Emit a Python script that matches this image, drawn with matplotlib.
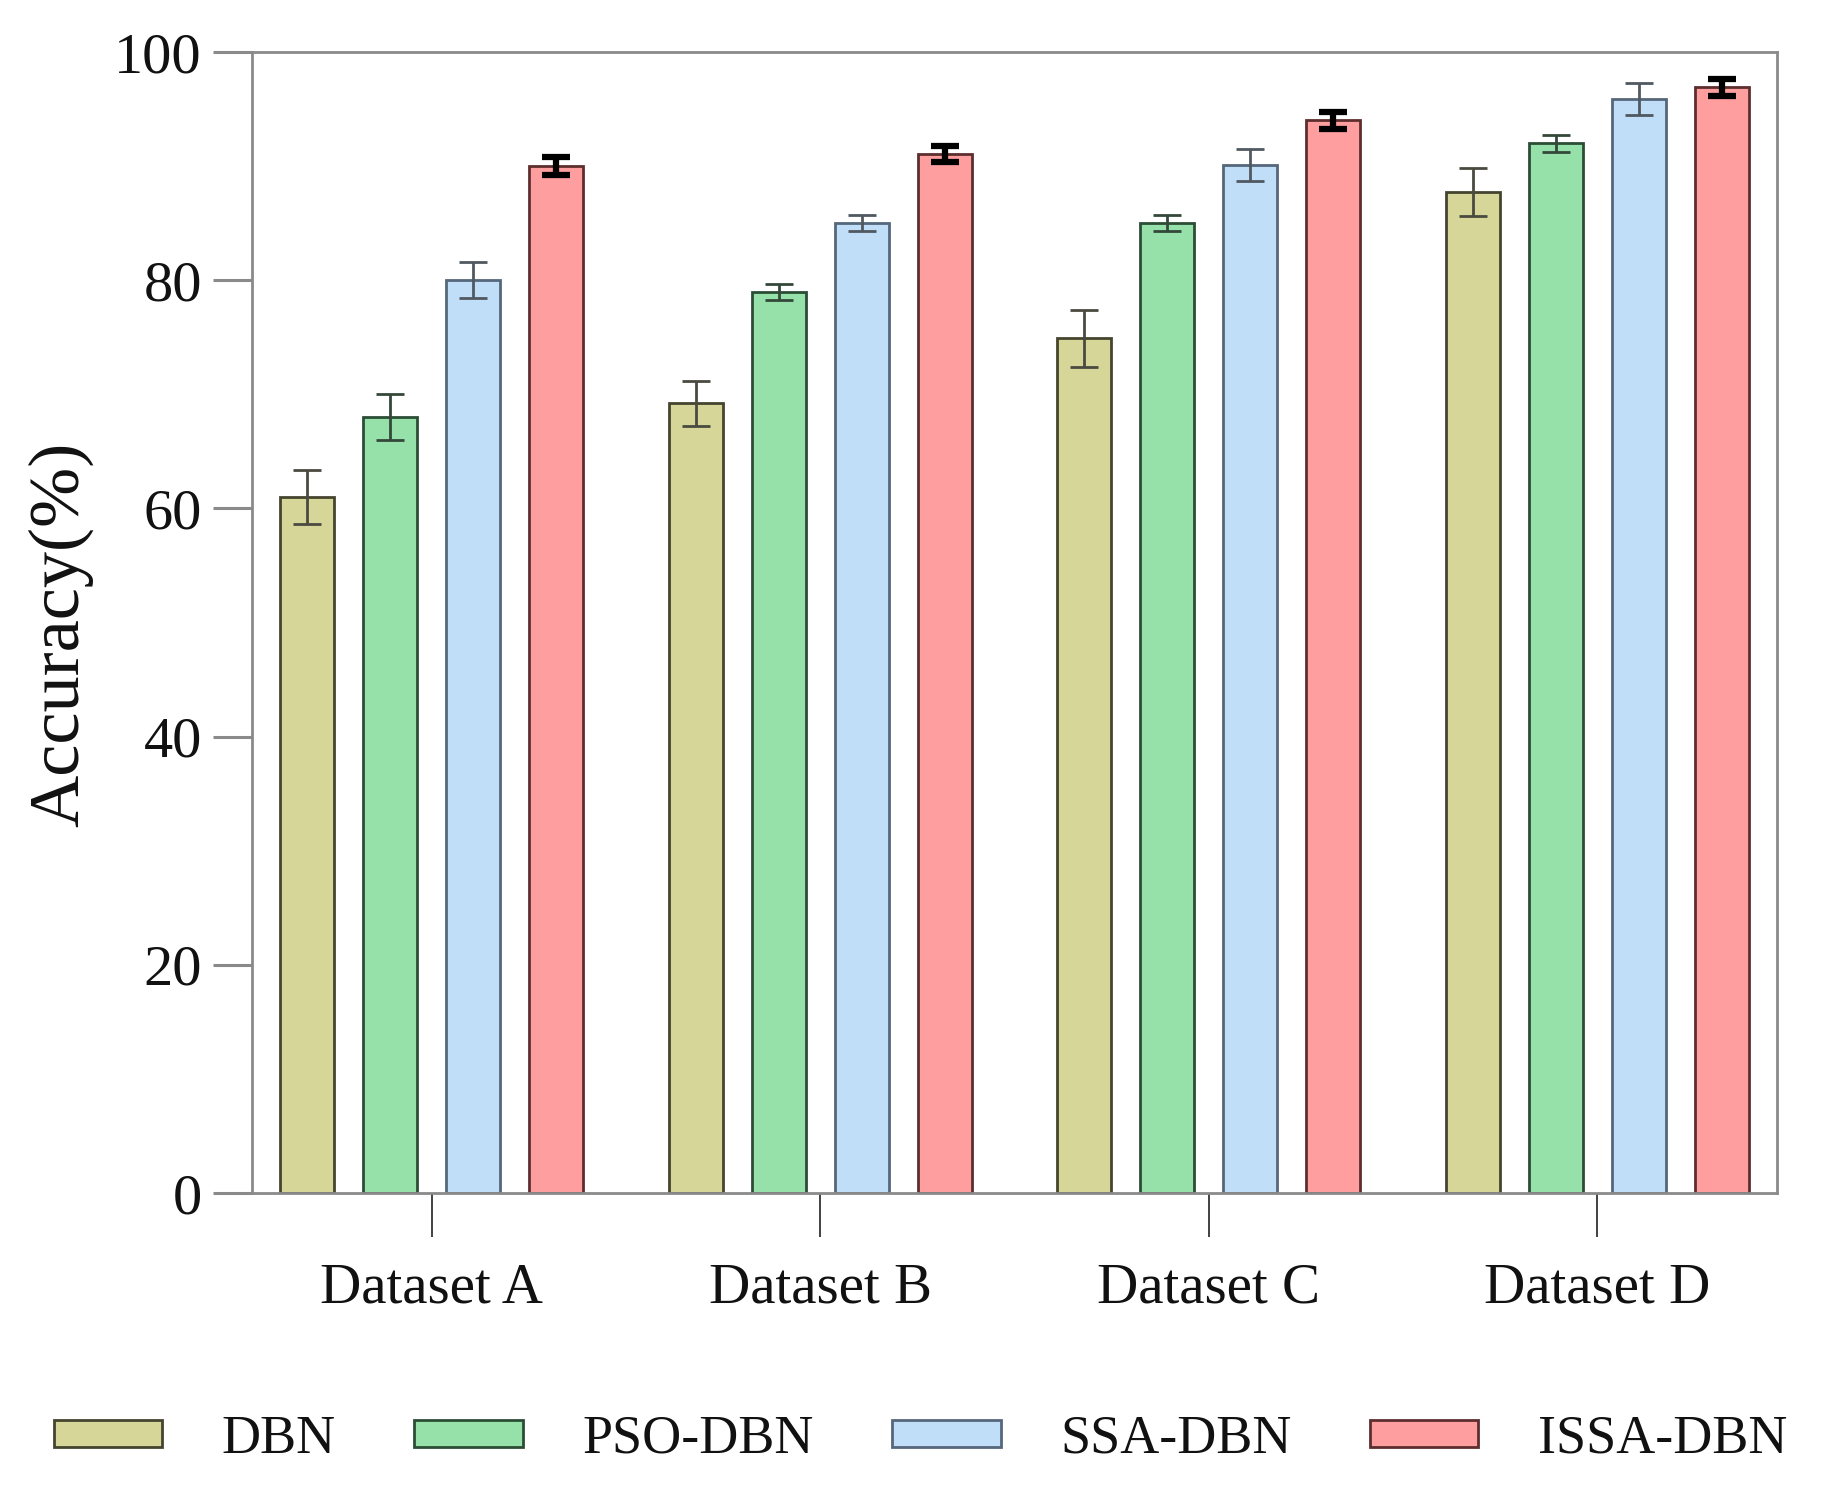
import matplotlib
matplotlib.use("Agg")
import matplotlib.pyplot as plt
import numpy as np

plt.rcParams['font.family'] = ['Liberation Serif', 'DejaVu Serif']

datasets = ["Dataset A", "Dataset B", "Dataset C", "Dataset D"]
models = ["DBN", "PSO-DBN", "SSA-DBN", "ISSA-DBN"]
dbn = [61.0, 69.2, 74.9, 87.7]
pso = [68.0, 79.0, 85.0, 92.0]
ssa = [80.0, 85.0, 90.1, 95.9]
issa = [90.0, 91.1, 94.0, 96.9]
dbn_err = [2.4, 2.0, 2.5, 2.1]
pso_err = [2.0, 0.7, 0.7, 0.75]
ssa_err = [1.6, 0.7, 1.4, 1.4]
issa_err = [0.8, 0.7, 0.75, 0.75]
yticks = [0, 20, 40, 60, 80, 100]

values = [dbn, pso, ssa, issa]
errors = [dbn_err, pso_err, ssa_err, issa_err]
fills = ["#D6D699", "#96E0AA", "#C0DEF8", "#FF9E9E"]
edges = ["#45452f", "#2c4d35", "#55677a", "#5e2e2e"]
ecolors = ["#4a4a40", "#34483a", "#505860", "#000000"]
elws = [2.0, 2.0, 2.0, 4.5]

fig = plt.figure(figsize=(18.23, 14.90), dpi=100)
ax = fig.add_axes([0.1382, 0.1993, 0.9748 - 0.1382, 0.9651 - 0.1993])

x = np.arange(len(datasets))
step = 0.2134
width = 0.139
for i, (vals, errs) in enumerate(zip(values, errors)):
    pos = x + (i - 1.5) * step
    ax.bar(pos, vals, width=width, color=fills[i], edgecolor=edges[i],
           linewidth=2.0, label=models[i], zorder=2)
    ax.errorbar(pos, vals, yerr=errs, fmt='none', ecolor=ecolors[i],
                elinewidth=elws[i], capsize=10, capthick=elws[i], zorder=3)

ax.set_xlim(-0.463, 3.463)
ax.set_ylim(0, 100)
ax.set_yticks(yticks)
ax.set_yticklabels([str(t) for t in yticks])
ax.set_xticks(x)
ax.set_xticklabels(datasets)

for s in ax.spines.values():
    s.set_color("#8a8a8a")
    s.set_linewidth(2.0)

ax.tick_params(axis='y', direction='out', length=28, width=2.2, color="#8a8a8a",
               labelsize=42, pad=8, labelcolor="#111111")
ax.tick_params(axis='x', direction='out', length=32, width=1.3, color="#333333",
               labelsize=41, pad=18, labelcolor="#111111")

ax.set_ylabel("Accuracy(%)", fontsize=52, color="#111111")
ax.yaxis.set_label_coords(-0.104, 0.49)

leg = fig.legend(loc='center', bbox_to_anchor=(0.505, 0.034), ncol=4,
                 frameon=False, fontsize=39, handlelength=2.0, handleheight=0.4,
                 handletextpad=1.1, columnspacing=1.45)
for t in leg.get_texts():
    t.set_color("#111111")

fig.savefig("out.png", dpi=100)
